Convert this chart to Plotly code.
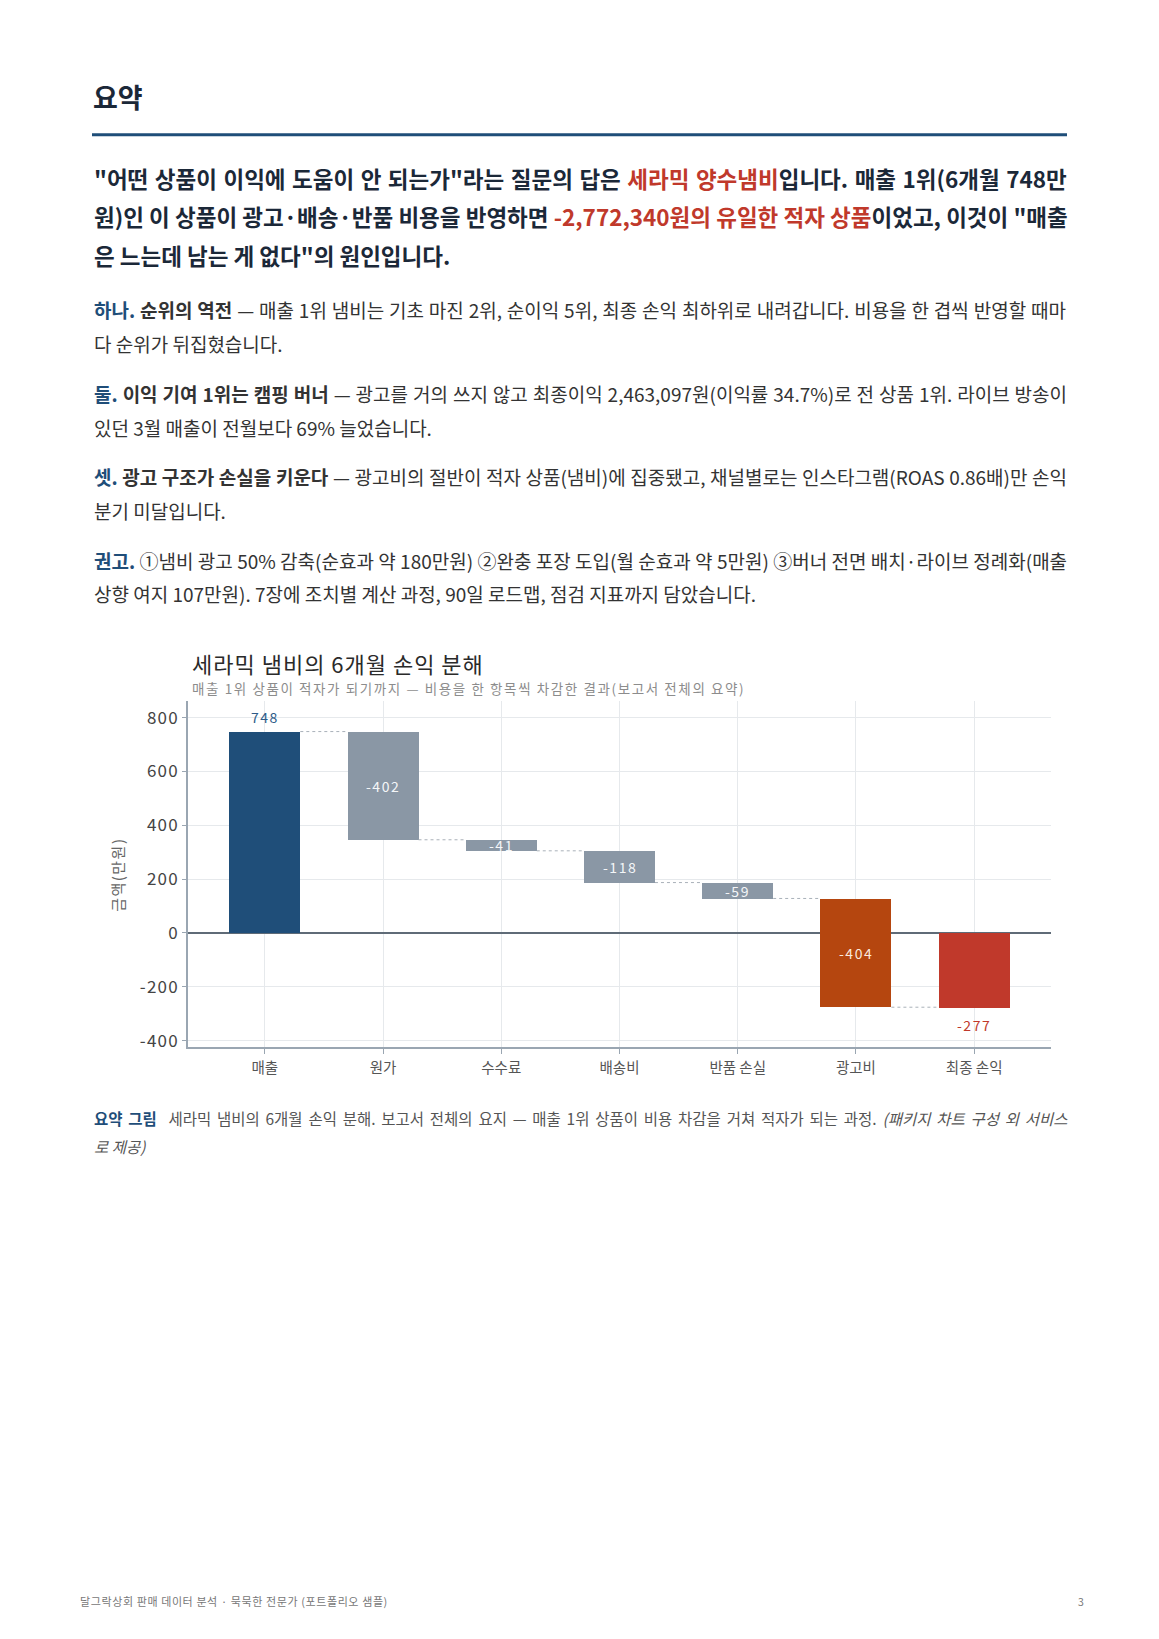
import plotly.graph_objects as go

# ---------------- data ----------------
categories = ["매출", "원가", "수수료", "배송비", "반품 손실", "광고비", "최종 손익"]
deltas = [748, -402, -41, -118, -59, -404]   # 만원
final_value = -277                             # 만원
bar_labels = ["748", "-402", "-41", "-118", "-59", "-404", "-277"]
y_tickvals = [-400, -200, 0, 200, 400, 600, 800]
y_ticktext = ["-400", "-200", "0", "200", "400", "600", "800"]

# ---------------- page geometry ----------------
W, H = 1159, 1639
def px(x):
    return x / W
def py(y):
    return 1 - y / H

NAVY = "#1F4E79"
DARK = "#1b2838"
RED = "#C0392B"
GREY_BAR = "#8A97A5"
AD = "#B5460F"
FONT = "Noto Sans CJK KR"

def ls(s, v):
    return f"<span style='letter-spacing:{v}px'>{s}</span>"
def ws(s, v):
    return f"<span style='word-spacing:{v}px'>{s}</span>"

# running totals
bases, heights = [], []
run = 0
for i, d in enumerate(deltas):
    bases.append(0 if i == 0 else run)
    heights.append(d)
    run += d
bases.append(0)
heights.append(final_value)
tops = [b + h for b, h in zip(bases, heights)]
colors = [NAVY, GREY_BAR, GREY_BAR, GREY_BAR, GREY_BAR, AD, RED]

fig = go.Figure()
BW = 0.6
fig.add_trace(go.Bar(
    x=categories, y=heights, base=bases, width=BW,
    marker=dict(color=colors, line=dict(width=0)),
    hoverinfo="skip", showlegend=False,
))

# connectors (dotted) between consecutive bars at running totals
for i in range(len(categories) - 1):
    level = tops[i]
    fig.add_trace(go.Scatter(
        x=[i + BW / 2, i + 1 - BW / 2], y=[level, level],
        mode="lines", line=dict(color="#a9b1b9", width=1, dash="dot"),
        hoverinfo="skip", showlegend=False, xaxis="x2",
    ))

# value labels
annotations = []
for i, (cat, b, t, lab) in enumerate(zip(categories, bases, tops, bar_labels)):
    txt = ls(lab, 1.5)
    if i == 0:
        annotations.append(dict(x=cat, y=t, xref="x", yref="y", text=txt, showarrow=False,
                                yanchor="bottom", yshift=3,
                                font=dict(family=FONT, size=14, color="#2e5b88")))
    elif i == len(categories) - 1:
        annotations.append(dict(x=cat, y=t, xref="x", yref="y", text=txt, showarrow=False,
                                yanchor="top", yshift=-6,
                                font=dict(family=FONT, size=14, color=RED)))
    else:
        annotations.append(dict(x=cat, y=(b + t) / 2, xref="x", yref="y", text=txt,
                                showarrow=False, yanchor="middle",
                                font=dict(family=FONT, size=14,
                                          color="#fbe9dd" if i == 5 else "#f4f6f8")))

# ---------------- page text ----------------
def add_text(x, y, text, size, color="#333333", bold=False, anchor="left", **kw):
    annotations.append(dict(
        x=px(x), y=py(y), xref="paper", yref="paper", text=text, showarrow=False,
        xanchor=anchor, yanchor="middle", align="left",
        font=dict(family=FONT, size=size, color=color,
                  weight="bold" if bold else "normal"), **kw))

add_text(91, 97, "요약", 27, DARK, bold=True)

def red(s):
    return f"<span style='color:{RED}'>{s}</span>"
def navy(s):
    return f"<span style='color:{NAVY}'>{s}</span>"

lead = [
    ('"어떤 상품이 이익에 도움이 안 되는가"라는 질문의 답은 ' + red("세라믹 양수냄비") + '입니다. 매출 1위(6개월 748만', 1.4),
    ('원)인 이 상품이 광고·배송·반품 비용을 반영하면 ' + red("-2,772,340원의 유일한 적자 상품") + '이었고, 이것이 "매출', 0.1),
    ('은 느는데 남는 게 없다"의 원인입니다.', 0),
]
for k, (line, w) in enumerate(lead):
    add_text(92, 178 + 38.6 * k, ws(line, w), 22.5, DARK, bold=True)

paras = [
    (310.6, navy("<b>하나.</b>") + " <b>순위의 역전</b> — 매출 1위 냄비는 기초 마진 2위, 순이익 5위, 최종 손익 최하위로 내려갑니다. 비용을 한 겹씩 반영할 때마", 0.6,
     "다 순위가 뒤집혔습니다."),
    (394.5, navy("<b>둘.</b>") + " <b>이익 기여 1위는 캠핑 버너</b> — 광고를 거의 쓰지 않고 최종이익 2,463,097원(이익률 34.7%)로 전 상품 1위. 라이브 방송이", 0.7,
     "있던 3월 매출이 전월보다 69% 늘었습니다."),
    (478, navy("<b>셋.</b>") + " <b>광고 구조가 손실을 키운다</b> — 광고비의 절반이 적자 상품(냄비)에 집중됐고, 채널별로는 인스타그램(ROAS 0.86배)만 손익", 0.3,
     "분기 미달입니다."),
    (561.5, navy("<b>권고.</b>") + " ①냄비 광고 50% 감축(순효과 약 180만원) ②완충 포장 도입(월 순효과 약 5만원) ③버너 전면 배치·라이브 정례화(매출", 0.1,
     "상향 여지 107만원). 7장에 조치별 계산 과정, 90일 로드맵, 점검 지표까지 담았습니다."),
]
for y0, l1, w, l2 in paras:
    add_text(92, y0, ws(l1, w), 19, "#333333")
    add_text(92, y0 + 33.6, l2, 19, "#333333")

# chart title / subtitle
add_text(190, 665, ls("세라믹 냄비의 6개월 손익 분해", 1), 22, "#2a2a2a")
add_text(190, 690, ls("매출 1위 상품이 적자가 되기까지 — 비용을 한 항목씩 차감한 결과(보고서 전체의 요약)", 1.6), 13.5, "#8c8c8c")
# y-axis title
add_text(118, 877, ls("금액(만원)", 1.5), 15, "#666666", anchor="center", textangle=-90)

# caption
add_text(92, 1121, ws(navy("<b>요약 그림</b>") + "  세라믹 냄비의 6개월 손익 분해. 보고서 전체의 요지 — 매출 1위 상품이 비용 차감을 거쳐 적자가 되는 과정. <i>(패키지 차트 구성 외 서비스</i>", 2.3), 15.5, "#555555")
add_text(92, 1149, "<i>로 제공)</i>", 15.5, "#555555")

# footer
add_text(78, 1605, ls("달그락상회 판매 데이터 분석 · 묵묵한 전문가 (포트폴리오 샘플)", 0.6), 11, "#777777")
add_text(1081, 1605, "3", 10.5, "#777777", anchor="center")

# ---------------- layout ----------------
plot_l, plot_r, plot_t, plot_b = 188, 1051, 702.6, 1049.6
xdom = [px(plot_l), px(plot_r)]
ydom = [py(plot_b), py(plot_t)]
xr = [-0.65, len(categories) - 1 + 0.65]

fig.update_layout(
    width=W, height=H, autosize=False,
    margin=dict(l=0, r=0, t=0, b=0, pad=0),
    paper_bgcolor="white", plot_bgcolor="white",
    font=dict(family=FONT),
    bargap=0,
    xaxis=dict(domain=xdom, range=xr, type="category", categoryorder="array",
               categoryarray=categories,
               showgrid=True, gridcolor="#e6e9ec", gridwidth=1,
               showline=True, linecolor="#9aa6b2", linewidth=1.5,
               ticks="outside", ticklen=5, tickcolor="#9aa6b2", tickwidth=1.2,
               tickfont=dict(family=FONT, size=14.5, color="#555555"),
               ticklabelstandoff=2, zeroline=False, fixedrange=True),
    xaxis2=dict(domain=xdom, range=xr, overlaying="x", visible=False, anchor="y"),
    yaxis=dict(domain=ydom, range=[-424, 862],
               tickvals=y_tickvals, ticktext=[ls(t, 1.2) for t in y_ticktext],
               showgrid=True, gridcolor="#e6e9ec", gridwidth=1,
               showline=True, linecolor="#9aa6b2", linewidth=1.5,
               ticks="outside", ticklen=4, tickcolor="#9aa6b2", tickwidth=1.2,
               tickfont=dict(family=FONT, size=17, color="#444444"),
               zeroline=True, zerolinecolor="#5f6b77", zerolinewidth=1.6,
               fixedrange=True),
    annotations=annotations,
    shapes=[dict(type="line", xref="paper", yref="paper",
                 x0=px(92), x1=px(1067), y0=py(135), y1=py(135),
                 line=dict(color=NAVY, width=3))],
)

fig.write_html("out.html", config={"displayModeBar": False},
               post_script="document.body.style.margin='0';document.body.style.overflow='hidden';")
